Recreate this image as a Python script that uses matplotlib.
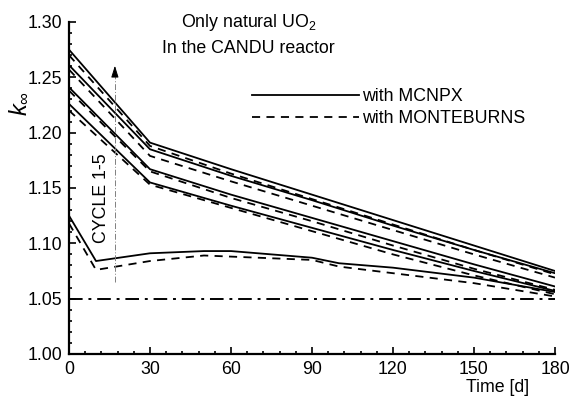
import matplotlib
matplotlib.use('Agg')
import matplotlib.pyplot as plt
from matplotlib.ticker import MultipleLocator

plt.rcParams['font.family'] = ['Liberation Sans', 'DejaVu Sans']
plt.rcParams['mathtext.fontset'] = 'custom'
plt.rcParams['mathtext.rm'] = 'Liberation Sans'
plt.rcParams['mathtext.it'] = 'Liberation Sans:italic'

# burnup time [d]
t_cycle = [0, 30, 60, 90, 120, 150, 180]
t_first = [0, 10, 30, 50, 60, 70, 90, 100, 120, 150, 180]

# k-inf, MCNPX (solid) and MONTEBURNS (dashed), cycles 1..5
mcnpx_c1 = [1.125, 1.084, 1.091, 1.093, 1.093, 1.091, 1.087, 1.082, 1.078, 1.069, 1.056]
monte_c1 = [1.118, 1.076, 1.084, 1.089, 1.088, 1.087, 1.085, 1.079, 1.073, 1.064, 1.052]
mcnpx_c2 = [1.226, 1.155, 1.134, 1.114, 1.094, 1.075, 1.057]
monte_c2 = [1.220, 1.153, 1.132, 1.111, 1.090, 1.071, 1.054]
mcnpx_c3 = [1.241, 1.167, 1.144, 1.123, 1.102, 1.081, 1.061]
monte_c3 = [1.238, 1.165, 1.141, 1.120, 1.098, 1.077, 1.058]
mcnpx_c4 = [1.261, 1.185, 1.161, 1.139, 1.116, 1.094, 1.073]
monte_c4 = [1.257, 1.179, 1.156, 1.134, 1.112, 1.090, 1.069]
mcnpx_c5 = [1.275, 1.191, 1.167, 1.144, 1.121, 1.098, 1.075]
monte_c5 = [1.270, 1.188, 1.163, 1.140, 1.117, 1.094, 1.072]

k_limit = 1.05
cycle_arrow_t = 17
cycle_arrow_k = (1.065, 1.263)

fs = 12.8

fig = plt.figure(figsize=(5.74, 3.99), dpi=100)
ax = fig.add_axes([0.1202, 0.1128, 0.8467, 0.8321])

lw = 1.3
dash = (4.5, 3.5)
ax.plot(t_first, mcnpx_c1, color='black', lw=lw, label='with MCNPX')
ax.plot(t_first, monte_c1, color='black', lw=lw, dashes=dash, label='with MONTEBURNS')
for s, d in [(mcnpx_c2, monte_c2), (mcnpx_c3, monte_c3),
             (mcnpx_c4, monte_c4), (mcnpx_c5, monte_c5)]:
    ax.plot(t_cycle, s, color='black', lw=lw)
    ax.plot(t_cycle, d, color='black', lw=lw, dashes=dash)

# criticality limit
ax.plot([0, 180], [k_limit, k_limit], color='black', lw=1.4, dashes=(7, 3, 1.5, 3))

# cycle arrow
ax.plot([cycle_arrow_t, cycle_arrow_t], [cycle_arrow_k[0], cycle_arrow_k[1] - 0.008],
        color='gray', lw=0.7, dashes=(6, 2, 1, 2))
ax.annotate('', xy=(cycle_arrow_t, cycle_arrow_k[1]),
            xytext=(cycle_arrow_t, cycle_arrow_k[1] - 0.01),
            arrowprops=dict(arrowstyle='-|>,head_length=0.7,head_width=0.22',
                            color='black', lw=0.7))
ax.text(12, 1.141, 'CYCLE 1-5', rotation=90, ha='center', va='center', fontsize=fs)

ax.text(0.37, 0.998, 'Only natural UO$_2$', transform=ax.transAxes,
        ha='center', va='center', fontsize=fs)
ax.text(0.37, 0.919, 'In the CANDU reactor', transform=ax.transAxes,
        ha='center', va='center', fontsize=fs)

ax.legend(loc='center left', bbox_to_anchor=(0.3765, 0.742), frameon=False,
          fontsize=fs, handlelength=6.0, handletextpad=0.2,
          labelspacing=0.3, borderpad=0, borderaxespad=0)

ax.set_xlim(0, 180)
ax.set_ylim(1.0, 1.3)
ax.xaxis.set_major_locator(MultipleLocator(30))
ax.xaxis.set_minor_locator(MultipleLocator(6))
ax.yaxis.set_major_locator(MultipleLocator(0.05))
ax.yaxis.set_minor_locator(MultipleLocator(0.01))
ax.yaxis.set_major_formatter(plt.FormatStrFormatter('%.2f'))

ax.tick_params(which='both', direction='in', width=1.2, labelsize=fs, color='black')
ax.tick_params(which='major', length=5, pad=5)
ax.tick_params(which='minor', length=2.5)

for side in ['top', 'right']:
    ax.spines[side].set_visible(False)
for side in ['left', 'bottom']:
    ax.spines[side].set_linewidth(1.6)

ax.set_ylabel(r'$k_{\infty}$', fontsize=17, rotation=90, va='center')
ax.yaxis.set_label_coords(-0.10, 0.753)
ax.set_xlabel('Time [d]', fontsize=fs, ha='right', va='center')
ax.xaxis.set_label_coords(0.946, -0.102)

fig.savefig('out.png', dpi=100)
